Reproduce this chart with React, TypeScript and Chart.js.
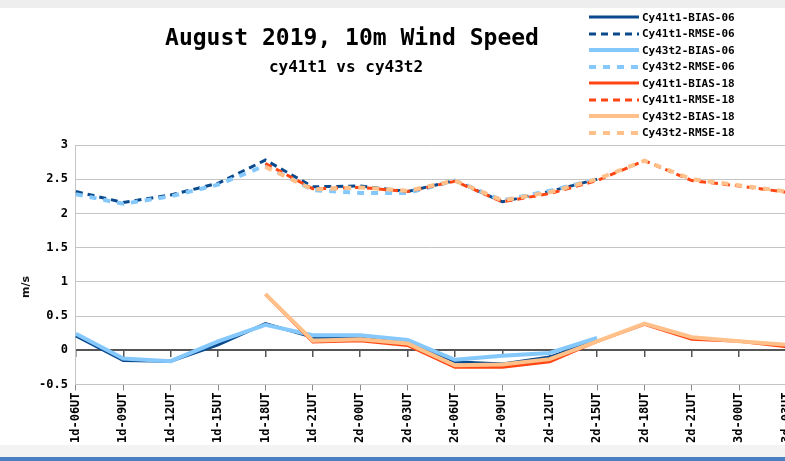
import React, { useEffect, useRef } from "react";
import { Chart, registerables } from "chart.js";

Chart.register(...registerables);

const categories = [
  "1d-06UT", "1d-09UT", "1d-12UT", "1d-15UT", "1d-18UT", "1d-21UT",
  "2d-00UT", "2d-03UT", "2d-06UT", "2d-09UT", "2d-12UT", "2d-15UT",
  "2d-18UT", "2d-21UT", "3d-00UT", "3d-03UT",
];

const cy41t1Bias06 = [0.21, -0.15, -0.16, 0.08, 0.39, 0.19, 0.19, 0.13, -0.17, -0.2, -0.1, 0.15, null, null, null, null];
const cy41t1Rmse06 = [2.32, 2.16, 2.27, 2.44, 2.78, 2.39, 2.4, 2.32, 2.48, 2.17, 2.32, 2.5, null, null, null, null];
const cy43t2Bias06 = [0.24, -0.12, -0.16, 0.13, 0.37, 0.22, 0.22, 0.15, -0.14, -0.08, -0.04, 0.18, null, null, null, null];
const cy43t2Rmse06 = [2.28, 2.14, 2.25, 2.42, 2.7, 2.34, 2.3, 2.3, 2.48, 2.19, 2.33, 2.5, null, null, null, null];
const cy41t1Bias18 = [null, null, null, null, 0.82, 0.12, 0.14, 0.07, -0.25, -0.25, -0.17, 0.13, 0.38, 0.16, 0.13, 0.05];
const cy41t1Rmse18 = [null, null, null, null, 2.73, 2.36, 2.38, 2.32, 2.47, 2.17, 2.29, 2.48, 2.77, 2.48, 2.4, 2.31];
const cy43t2Bias18 = [null, null, null, null, 0.82, 0.14, 0.16, 0.1, -0.22, -0.21, -0.13, 0.13, 0.39, 0.19, 0.13, 0.08];
const cy43t2Rmse18 = [null, null, null, null, 2.68, 2.35, 2.38, 2.33, 2.48, 2.19, 2.31, 2.5, 2.77, 2.5, 2.41, 2.32];

const yTickMin = -0.5;
const yTickMax = 3;
const yTickStep = 0.5;

const title = "August 2019, 10m Wind Speed";
const subtitle = "cy41t1 vs cy43t2";
const yAxisTitle = "m/s";

const DARK_BLUE = "#0a4a8c";
const LIGHT_BLUE = "#85c8fb";
const RED = "#ff4512";
const PEACH = "#ffc08a";

const DASH_A = [7, 5];
const DASH_B = [7, 7];

const series = [
  { label: "Cy41t1-BIAS-06", data: cy41t1Bias06, color: DARK_BLUE, width: 3, dash: [] as number[] },
  { label: "Cy41t1-RMSE-06", data: cy41t1Rmse06, color: DARK_BLUE, width: 3, dash: DASH_A },
  { label: "Cy43t2-BIAS-06", data: cy43t2Bias06, color: LIGHT_BLUE, width: 4, dash: [] as number[] },
  { label: "Cy43t2-RMSE-06", data: cy43t2Rmse06, color: LIGHT_BLUE, width: 4, dash: DASH_B },
  { label: "Cy41t1-BIAS-18", data: cy41t1Bias18, color: RED, width: 3, dash: [] as number[] },
  { label: "Cy41t1-RMSE-18", data: cy41t1Rmse18, color: RED, width: 3, dash: DASH_A },
  { label: "Cy43t2-BIAS-18", data: cy43t2Bias18, color: PEACH, width: 4, dash: [] as number[] },
  { label: "Cy43t2-RMSE-18", data: cy43t2Rmse18, color: PEACH, width: 4, dash: DASH_B },
];

const MONO = "'DejaVu Sans Mono', monospace";

export default function App() {
  const ref = useRef<HTMLCanvasElement>(null);

  useEffect(() => {
    const canvas = ref.current;
    if (!canvas) return;
    const chart = new Chart(canvas, {
      type: "line",
      data: {
        labels: categories,
        datasets: series.map((s, i) => ({
          label: s.label,
          data: s.data,
          borderColor: s.color,
          backgroundColor: s.color,
          borderWidth: s.width,
          borderDash: s.dash,
          pointRadius: 0,
          pointHoverRadius: 0,
          tension: 0,
          fill: false,
          spanGaps: false,
          order: series.length - i,
          xAxisID: "x",
          yAxisID: "y",
        })),
      },
      options: {
        responsive: false,
        animation: false,
        devicePixelRatio: 1,
        layout: { padding: { top: 145, left: 31, right: 0, bottom: 0 } },
        plugins: {
          legend: { display: false },
          title: { display: false },
          tooltip: { enabled: false },
        },
        scales: {
          x: {
            type: "category",
            position: "bottom",
            offset: false,
            grid: {
              drawOnChartArea: false,
              drawTicks: true,
              tickLength: 6,
              color: "#8a8a8a",
            },
            border: { display: true, color: "#c4c4c4", width: 1 },
            ticks: {
              autoSkip: false,
              maxRotation: 90,
              minRotation: 90,
              padding: 2,
              color: "#000",
              font: { family: MONO, size: 12, weight: "bold" },
            },
          },
          x2: {
            type: "category",
            axis: "x",
            position: { y: 0 },
            offset: false,
            grid: {
              drawOnChartArea: false,
              drawTicks: true,
              tickLength: 6,
              color: "#555",
              lineWidth: 1.5,
            },
            border: { display: true, color: "#555", width: 2 },
            ticks: { display: false },
          },
          y: {
            type: "linear",
            min: yTickMin,
            max: yTickMax,
            grid: {
              color: "#c4c4c4",
              lineWidth: 1,
              drawTicks: false,
            },
            border: { display: true, color: "#c4c4c4", width: 1 },
            ticks: {
              stepSize: yTickStep,
              padding: 8,
              color: "#000",
              font: { family: MONO, size: 12, weight: "bold" },
              callback: (v: number | string) => String(Math.round(Number(v) * 10) / 10),
            },
          },
        },
      },
    } as any);
    return () => chart.destroy();
  }, []);

  return (
    <div
      style={{
        position: "fixed",
        left: 0,
        top: 0,
        width: 785,
        height: 461,
        overflow: "hidden",
        background: "#fff",
      }}
    >
      <div style={{ position: "absolute", left: 0, top: 0, width: 785, height: 8, background: "#eeeeee" }} />
      <div style={{ position: "absolute", left: 0, top: 445, width: 785, height: 12, background: "#f3f3f3" }} />
      <div style={{ position: "absolute", left: 0, top: 457, width: 785, height: 4, background: "#4a7fc1" }} />
      <canvas
        ref={ref}
        width={803}
        height={445}
        style={{ position: "absolute", left: 0, top: 0, width: 803, height: 445, display: "block" }}
      />
      <div
        style={{
          position: "absolute",
          left: 152,
          top: 26,
          width: 400,
          textAlign: "center",
          font: `bold 23px ${MONO}`,
          lineHeight: "23px",
          color: "#000",
          whiteSpace: "nowrap",
        }}
      >
        {title}
      </div>
      <div
        style={{
          position: "absolute",
          left: 146,
          top: 59,
          width: 400,
          textAlign: "center",
          font: `bold 16px ${MONO}`,
          lineHeight: "16px",
          color: "#000",
          whiteSpace: "nowrap",
        }}
      >
        {subtitle}
      </div>
      <div
        style={{
          position: "absolute",
          left: 27 - 20,
          top: 287 - 8,
          width: 40,
          height: 16,
          lineHeight: "16px",
          textAlign: "center",
          transform: "rotate(-90deg)",
          font: "bold 11px 'DejaVu Sans', sans-serif",
          color: "#111",
        }}
      >
        {yAxisTitle}
      </div>
      <div style={{ position: "absolute", left: 588, top: 9, width: 197 }}>
        {series.map((s) => (
          <div key={s.label} style={{ display: "flex", alignItems: "center", height: 16.5 }}>
            <svg width={52} height={8} style={{ display: "block" }}>
              <line
                x1={1}
                y1={4}
                x2={51}
                y2={4}
                stroke={s.color}
                strokeWidth={s.width}
                strokeDasharray={s.dash.length ? s.dash.join(",") : undefined}
              />
            </svg>
            <span
              style={{
                marginLeft: 2,
                font: `bold 11px ${MONO}`,
                color: "#000",
                whiteSpace: "nowrap",
              }}
            >
              {s.label}
            </span>
          </div>
        ))}
      </div>
    </div>
  );
}
